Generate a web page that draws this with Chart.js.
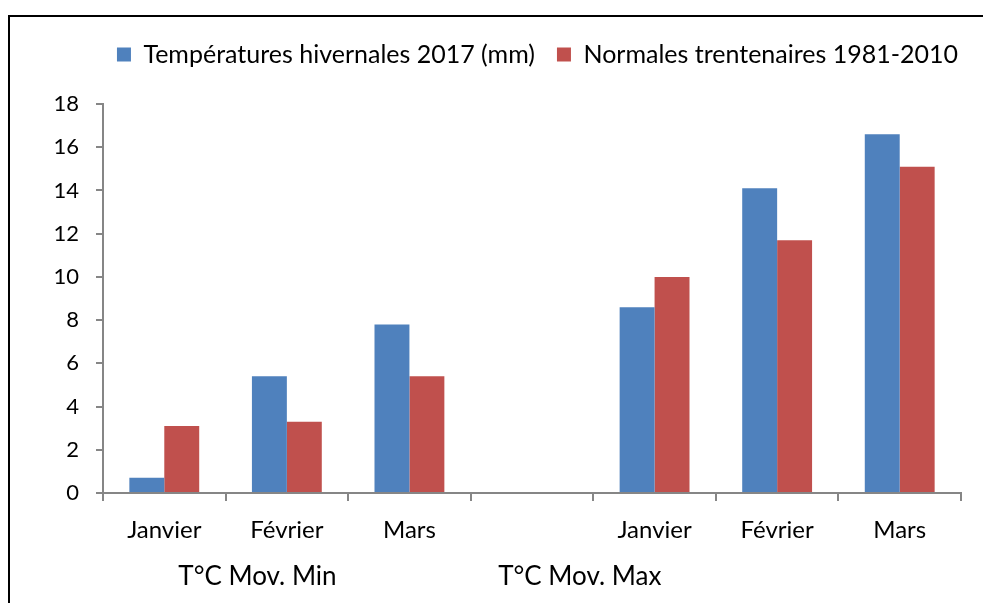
<!DOCTYPE html>
<html>
<head>
<meta charset="utf-8">
<script src="https://cdn.jsdelivr.net/npm/chart.js@4.4.0/dist/chart.umd.min.js"></script>
<style>
  html, body { margin: 0; padding: 0; background: #fff; overflow: hidden; }
  #frame {
    position: absolute; left: 8px; top: 15px; width: 1000px; height: 620px;
    border-left: 2px solid #000; border-top: 2px solid #000;
  }
  #wrap { position: absolute; left: 0; top: 0; width: 983px; height: 603px; }
</style>
</head>
<body>
<div id="frame"></div>
<div id="wrap"><canvas id="chart"></canvas></div>
<script>
const categories = ["Janvier", "Février", "Mars", "", "Janvier", "Février", "Mars"];
const groupLabels = ["T°C Mov. Min", "T°C Mov. Max"];
const seriesNames = ["Températures hivernales 2017 (mm)", "Normales trentenaires 1981-2010"];
const temp2017 = [0.7, 5.4, 7.8, null, 8.6, 14.1, 16.6];
const normales = [3.1, 3.3, 5.4, null, 10.0, 11.7, 15.1];

const FONT = "Lato";
const axisGrey = "#868686";

// second level of category labels under the months
const groupLabelPlugin = {
  id: "groupLabels",
  afterDraw(chart, args, opts) {
    const x = chart.scales.x;
    const ctx = chart.ctx;
    ctx.save();
    ctx.font = opts.size + "px " + FONT;
    ctx.fillStyle = "#000";
    ctx.textAlign = "center";
    ctx.textBaseline = "middle";
    opts.labels.forEach((lab, i) => {
      ctx.fillText(lab, x.getPixelForValue(opts.at[i]), x.bottom - opts.fromBottom);
    });
    ctx.restore();
  },
};

// legend sits a bit right of centre with extra room below it
const legendPlace = {
  id: "legendPlace",
  beforeInit(chart, args, opts) {
    const fit = chart.legend.fit;
    chart.legend.fit = function () {
      fit.call(this);
      this.height += opts.extraHeight;
    };
  },
  afterLayout(chart, args, opts) {
    chart.legend.left += opts.dx;
    chart.legend.right += opts.dx;
  },
};

new Chart(document.getElementById("chart"), {
  type: "bar",
  data: {
    labels: categories,
    datasets: [
      { label: seriesNames[0], data: temp2017, backgroundColor: "#4F81BD" },
      { label: seriesNames[1], data: normales, backgroundColor: "#C0504D" },
    ],
  },
  options: {
    responsive: true,
    maintainAspectRatio: false,
    animation: false,
    events: [],
    categoryPercentage: 0.57,
    barPercentage: 1,
    layout: { padding: { top: 20, right: 22, left: 0, bottom: 0 } },
    scales: {
      x: {
        grid: { drawOnChartArea: false, color: axisGrey, lineWidth: 2, tickLength: 8, offset: true },
        border: { color: axisGrey, width: 2 },
        ticks: { color: "#000", font: { family: FONT, size: 24 }, padding: 15, maxRotation: 0 },
        afterFit(s) { s.height = 110; },
      },
      y: {
        min: 0, max: 18,
        grid: { drawOnChartArea: false, color: axisGrey, lineWidth: 2, tickLength: 7 },
        border: { color: axisGrey, width: 2 },
        ticks: { stepSize: 2, color: "#000", font: { family: FONT, size: 22 }, padding: 17 },
        afterFit(s) { s.width = 103; },
      },
    },
    plugins: {
      legend: {
        position: "top",
        labels: {
          color: "#000",
          font: { family: FONT, size: 25 },
          boxWidth: 14, boxHeight: 14, padding: 22,
        },
      },
      tooltip: { enabled: false },
      legendPlace: { extraHeight: 27, dx: 57 },
      groupLabels: { labels: groupLabels, at: [0.76, 3.39], size: 26, fromBottom: 26 },
    },
  },
  plugins: [groupLabelPlugin, legendPlace],
});
</script>
</body>
</html>
